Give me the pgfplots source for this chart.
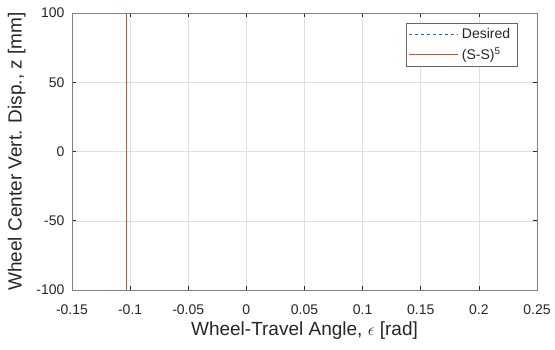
\documentclass[border=0pt]{standalone}
\usepackage{pgfplots}
\pgfplotsset{compat=1.18}
\usepackage{fontspec}
\setmainfont{Liberation Sans}
\definecolor{mblue}{rgb}{0,0.447,0.741}
\definecolor{morange}{rgb}{0.85,0.325,0.098}
\definecolor{axgray}{rgb}{0.15,0.15,0.15}
\begin{document}
\begin{tikzpicture}
\useasboundingbox (-72pt,-59pt) rectangle (483pt,290pt);
\begin{axis}[
  at={(0,0)}, anchor=south west,
  scale only axis, width=465pt, height=277pt,
  xmin=-0.15, xmax=0.25, ymin=-100, ymax=100,
  xtick={-0.15,-0.1,-0.05,0,0.05,0.1,0.15,0.2,0.25},
  xticklabels={-0.15,-0.1,-0.05,0,0.05,0.1,0.15,0.2,0.25},
  ytick={-100,-50,0,50,100},
  yticklabels={-100,-50,0,50,100},
  grid=major,
  major grid style={line width=0.5pt, draw=black!12},
  axis line style={draw=black!50, line width=0.7pt},
  tick style={draw=axgray, line width=0.6pt},
  tick align=inside, major tick length=4pt,
  ticklabel style={font=\fontsize{14}{15}\selectfont, text=axgray},
  xticklabel style={yshift=-11pt},
  yticklabel style={xshift=-4pt},
  xlabel={Wheel-Travel Angle, $\epsilon$ [rad]},
  ylabel={Wheel Center Vert. Disp., z [mm]},
  label style={font=\fontsize{19}{20}\selectfont, text=axgray},
  xlabel style={yshift=0pt},
  ylabel style={yshift=4pt},
  legend style={at={(0.958,0.965)}, anchor=north east, draw=black!60, line width=0.6pt,
    font=\fontsize{14}{15}\selectfont, text=axgray, inner sep=3pt, row sep=4pt,
    nodes={inner xsep=4pt}},
  legend cell align=left,
  legend image code/.code={\draw[#1] (0cm,0cm) -- (1.7cm,0cm);},
]
\addplot[mblue, dashed, line width=0.6pt] coordinates {(-0.1035,-100) (-0.1035,100)};
\addlegendentry{Desired}
\addplot[morange, line width=0.6pt] coordinates {(-0.1035,-100) (-0.1035,100)};
\addlegendentry{(S-S)\textsuperscript{5}}
\end{axis}
\end{tikzpicture}
\end{document}
